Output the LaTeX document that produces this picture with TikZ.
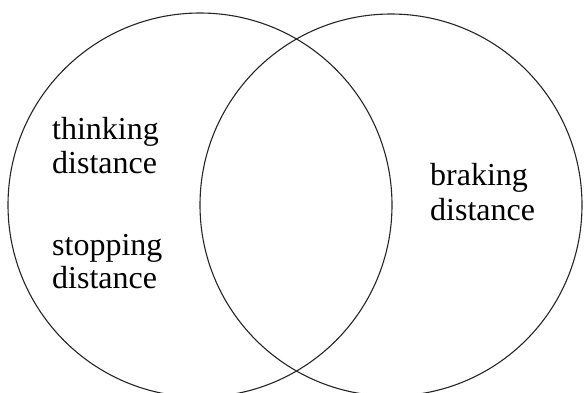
\documentclass[tikz,border=0pt]{standalone}
\usepackage{fontspec}
\setmainfont{Liberation Serif}
\begin{document}
\begin{tikzpicture}[x=1pt,y=-1pt,
  ring/.style={draw=black!85, line width=1.1pt},
  lab/.style={font=\fontsize{32}{35}\selectfont, anchor=base west, inner sep=0pt}]
\useasboundingbox (0,0) rectangle (584,392);
\node[ring, circle, minimum size=384pt, inner sep=0pt] (L) at (200,205) {};
\node[ring, circle, minimum size=382pt, inner sep=0pt] (R) at (391,205) {};
\node[lab] (t1) at (52,139) {thinking};
\node[lab] (t2) at (52,173) {distance};
\node[lab] (s1) at (52,255) {stopping};
\node[lab] (s2) at (52,288) {distance};
\node[lab] (b1) at (430,185) {braking};
\node[lab] (b2) at (430,220) {distance};
\end{tikzpicture}
\end{document}
